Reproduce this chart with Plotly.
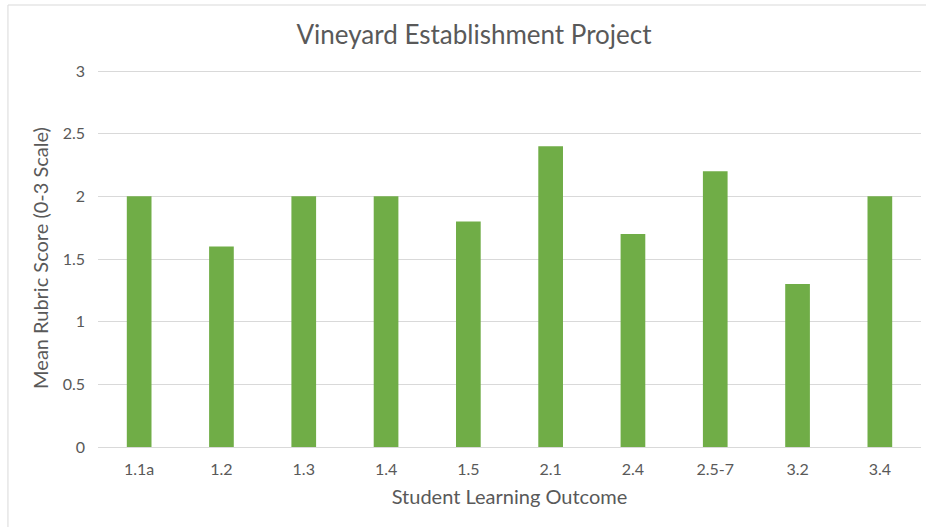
import plotly.graph_objects as go

categories = ["1.1a", "1.2", "1.3", "1.4", "1.5", "2.1", "2.4", "2.5-7", "3.2", "3.4"]
scores = [2.0, 1.6, 2.0, 2.0, 1.8, 2.4, 1.7, 2.2, 1.3, 2.0]
y_ticks = [0, 0.5, 1, 1.5, 2, 2.5, 3]
y_tick_labels = ["0", "0.5", "1", "1.5", "2", "2.5", "3"]

FONT = "Lato, Calibri, Carlito, sans-serif"
TXT = "#595959"

fig = go.Figure(go.Bar(x=categories, y=scores, marker=dict(color="#70AD47", line=dict(width=0))))

fig.update_layout(
    width=926, height=527,
    margin=dict(l=98, r=5, t=69, b=80),
    paper_bgcolor="white", plot_bgcolor="white",
    bargap=0.7,
    showlegend=False,
    font=dict(family=FONT, color=TXT, size=16),
    title=dict(text="Vineyard Establishment Project", x=474/926, xanchor="center",
               y=1 - 35/527, yanchor="middle", font=dict(size=26, color=TXT, family=FONT)),
    xaxis=dict(title=dict(text="Student Learning Outcome", font=dict(size=20, color=TXT), standoff=12),
               showgrid=False, showline=True, linecolor="#D9D9D9", linewidth=1,
               ticks="", tickfont=dict(size=16, color=TXT), ticklabelstandoff=8),
    yaxis=dict(title=dict(text="Mean Rubric Score (0-3 Scale)", font=dict(size=20, color=TXT), standoff=8),
               range=[0, 3.016], tickvals=y_ticks, ticktext=y_tick_labels,
               showgrid=True, gridcolor="#D9D9D9", gridwidth=1, zeroline=False,
               showline=False, ticks="", tickfont=dict(size=16, color=TXT), ticklabelstandoff=12),
    shapes=[dict(type="rect", xref="paper", yref="paper", x0=-0.1094, x1=1.2, y0=-0.4, y1=1.1693,
                 line=dict(color="#D9D9D9", width=1), fillcolor="rgba(0,0,0,0)", layer="below")],
)

fig.write_html("out.html", config={"displayModeBar": False},
               post_script="document.body.style.margin='0';document.body.style.overflow='hidden';")
